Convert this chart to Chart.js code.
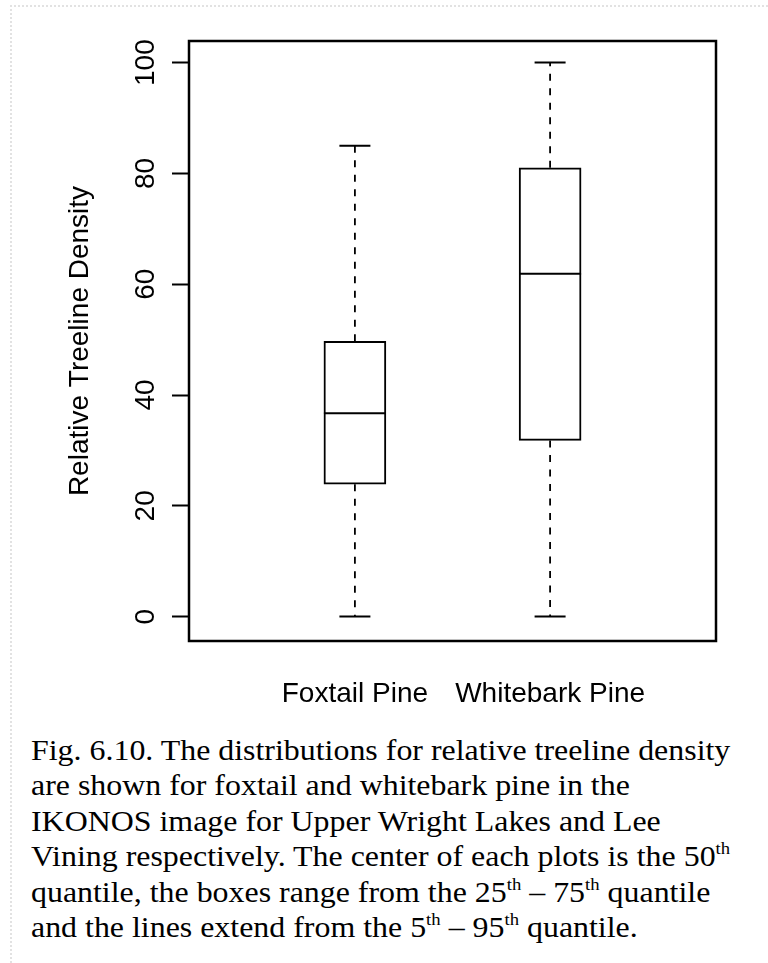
<!DOCTYPE html>
<html>
<head>
<meta charset="utf-8">
<script src="https://cdn.jsdelivr.net/npm/chart.js@4.4.1/dist/chart.umd.min.js"></script>
<style>
html,body{margin:0;padding:0;background:#fff;width:768px;height:963px;overflow:hidden;}
#frame{position:absolute;left:10px;top:5px;width:800px;height:1000px;border-left:2px dotted #e2e2e2;border-top:2px dotted #e2e2e2;}
#wrap{position:absolute;left:0;top:0;width:768px;height:720px;}
#cap{position:absolute;left:31px;top:733px;font-family:"Liberation Serif","Times New Roman",serif;font-size:29px;line-height:35.4px;color:#000;white-space:nowrap;transform:scaleX(1.1);transform-origin:0 0;}
#cap sup{font-size:17px;vertical-align:0;position:relative;top:-12px;line-height:0;}
</style>
</head>
<body>
<div id="frame"></div>
<div id="wrap"><canvas id="c" width="768" height="720"></canvas></div>
<div id="cap">Fig. 6.10. The distributions for relative treeline density<br>are shown for foxtail and whitebark pine in the<br>IKONOS image for Upper Wright Lakes and Lee<br>Vining respectively. The center of each plots is the 50<sup>th</sup><br>quantile, the boxes range from the 25<sup>th</sup> – 75<sup>th</sup> quantile<br>and the lines extend from the 5<sup>th</sup> – 95<sup>th</sup> quantile.</div>
<script>
const categories = ['Foxtail Pine', 'Whitebark Pine'];
const whiskerLow = [0, 0];        // 5th quantile
const q1 = [23.9, 31.8];          // 25th quantile
const median = [36.7, 61.9];      // 50th quantile
const q3 = [49.7, 81];            // 75th quantile
const whiskerHigh = [85, 100];    // 95th quantile
const yTicks = [0, 20, 40, 60, 80, 100];

const SANS = 'Liberation Sans, Arial, sans-serif';

const boxExtras = {
  id: 'boxExtras',
  afterDatasetsDraw(chart) {
    const ctx = chart.ctx;
    const xs = chart.scales.x, ys = chart.scales.y;
    const meta = chart.getDatasetMeta(0);
    ctx.save();
    ctx.strokeStyle = '#000';
    categories.forEach((c, i) => {
      const el = meta.data[i];
      const px = xs.getPixelForValue(i + 1);
      const half = el.width / 2;
      const capHalf = el.width / 4;
      ctx.lineWidth = 1.8;
      ctx.setLineDash([7, 7.5]);
      ctx.beginPath();
      ctx.moveTo(px, ys.getPixelForValue(q3[i]));
      ctx.lineTo(px, ys.getPixelForValue(whiskerHigh[i]));
      ctx.moveTo(px, ys.getPixelForValue(q1[i]));
      ctx.lineTo(px, ys.getPixelForValue(whiskerLow[i]));
      ctx.stroke();
      ctx.setLineDash([]);
      ctx.lineWidth = 2;
      ctx.beginPath();
      [whiskerHigh[i], whiskerLow[i]].forEach(v => {
        const py = ys.getPixelForValue(v);
        ctx.moveTo(px - capHalf, py);
        ctx.lineTo(px + capHalf, py);
      });
      ctx.stroke();
      ctx.beginPath();
      const my = ys.getPixelForValue(median[i]);
      ctx.moveTo(el.x - half, my);
      ctx.lineTo(el.x + half, my);
      ctx.stroke();
    });
    ctx.restore();
  },
  afterDraw(chart) {
    const a = chart.chartArea;
    const ctx = chart.ctx;
    ctx.save();
    ctx.strokeStyle = '#000';
    ctx.lineWidth = 2.5;
    ctx.strokeRect(a.left, a.top, a.right - a.left, a.bottom - a.top);
    ctx.restore();
  }
};

new Chart(document.getElementById('c'), {
  type: 'bar',
  data: {
    datasets: [{
      data: categories.map((c, i) => ({ x: i + 1, y: [q1[i], q3[i]] })),
      backgroundColor: '#fff',
      borderColor: '#000',
      borderWidth: 2,
      borderSkipped: false,
      barThickness: 62
    }]
  },
  options: {
    responsive: false,
    animation: false,
    devicePixelRatio: 1,
    layout: { padding: { left: 59, right: 52, top: 41, bottom: 0 } },
    plugins: { legend: { display: false }, tooltip: { enabled: false } },
    scales: {
      x: {
        type: 'linear',
        offset: false,
        min: 0.15,
        max: 2.85,
        afterBuildTicks: s => { s.ticks = categories.map((c, i) => ({ value: i + 1 })); },
        ticks: {
          callback: (v, idx) => categories[idx],
          color: '#000',
          font: { family: SANS, size: 28 },
          padding: 36,
          autoSkip: false,
          maxRotation: 0,
          minRotation: 0
        },
        grid: { display: false, drawTicks: false, offset: false },
        border: { display: false },
        afterFit: s => { s.height = 79; }
      },
      y: {
        min: -4.4,
        max: 103.9,
        afterBuildTicks: s => { s.ticks = yTicks.map(v => ({ value: v })); },
        ticks: {
          minRotation: 90,
          maxRotation: 90,
          padding: 2,
          crossAlign: 'center',
          color: '#000',
          font: { family: SANS, size: 28 }
        },
        grid: { display: true, drawOnChartArea: false, drawTicks: true, tickLength: 17, tickWidth: 2, tickColor: '#000' },
        border: { display: false },
        title: {
          display: true,
          text: 'Relative Treeline Density',
          color: '#000',
          font: { family: SANS, size: 28 },
          padding: { top: 4, bottom: 4 }
        },
        afterFit: s => { s.width = 130; }
      }
    }
  },
  plugins: [boxExtras]
});
</script>
</body>
</html>
